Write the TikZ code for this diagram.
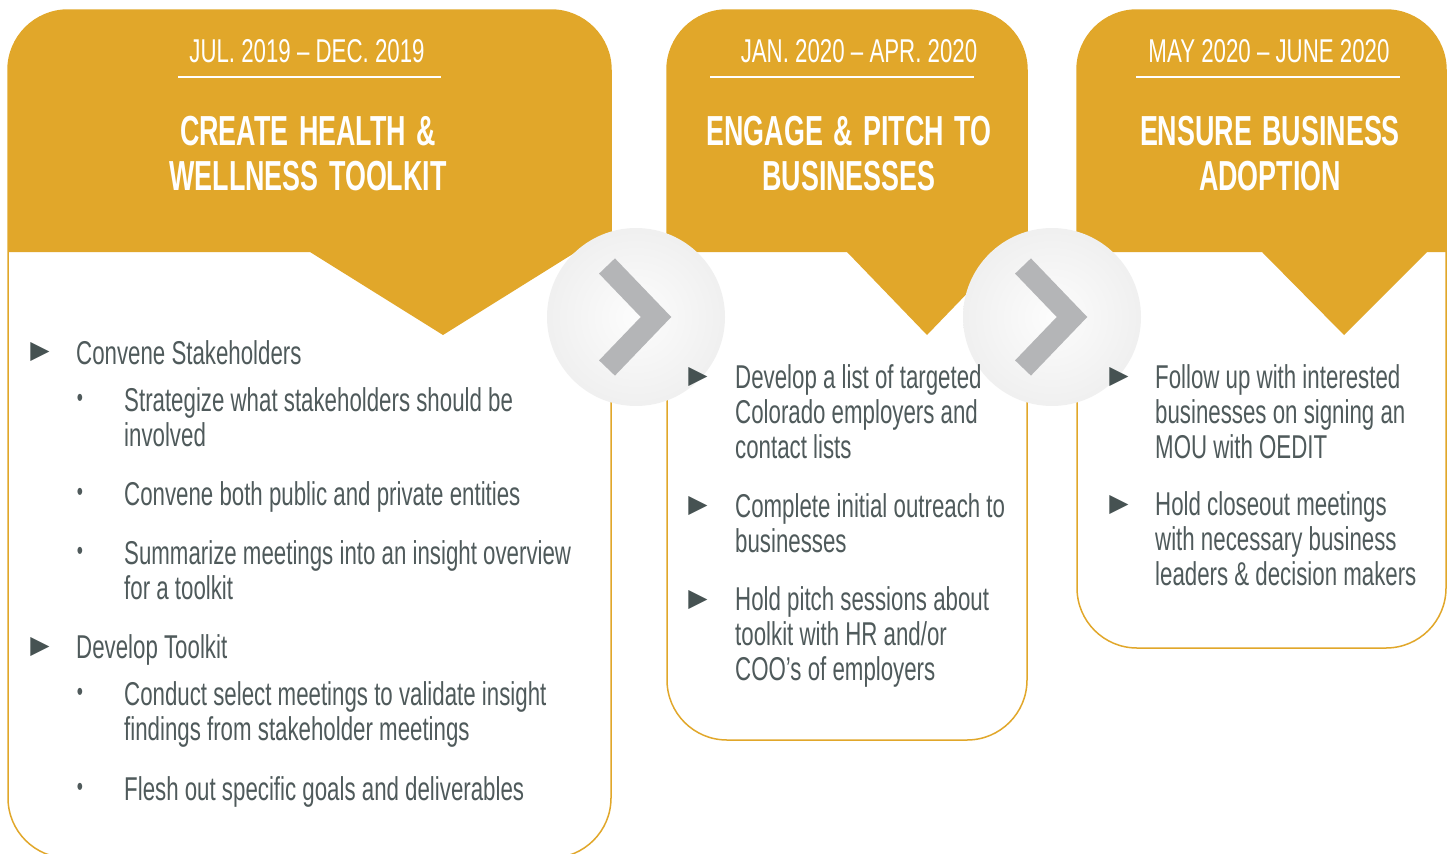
\documentclass[tikz,border=0pt]{standalone}
\usepackage{fontspec}
\setmainfont{Liberation Sans}
\newfontfamily\bodyfont[FakeStretch=0.675]{Liberation Sans}
\newfontfamily\headfont[FakeStretch=0.64,WordSpace=1.4]{Liberation Sans}
\newfontfamily\symfont{DejaVu Sans}
\usetikzlibrary{calc,positioning}
\definecolor{gold}{HTML}{E1A72A}
\definecolor{slate}{HTML}{4F5A5B}
\definecolor{slatedark}{HTML}{465252}
\definecolor{chevgray}{HTML}{B4B5B7}

\begin{document}
\begin{tikzpicture}[x=1pt,y=-1pt,
  card/.style={draw=gold,line width=1.5pt,fill=white,rounded corners=60pt},
  ball/.style={circle,minimum size=178pt,inner sep=0pt,inner color=black!1,outer color=black!6},
  chev/.style={draw=chevgray,line width=22pt},
  rule/.style={draw=white,line width=1.2pt},
  datetxt/.style={anchor=base,inner sep=0pt,text=white,font=\bodyfont\fontsize{33}{35}\selectfont},
  titletxt/.style={anchor=base,inner sep=0pt,text width=420pt,align=flush center,text=white,font=\headfont\bfseries\fontsize{42}{45}\selectfont},
  item/.style={anchor=base west,inner sep=0pt,text width=480pt,align=flush left,text=slate,font=\bodyfont\fontsize{33}{35}\selectfont},
  tri/.style={inner sep=0pt,text=slatedark,font=\symfont\fontsize{25}{25}\selectfont},
  dot/.style={inner sep=0pt,text=slate,font=\bodyfont\fontsize{26}{26}\selectfont}]
\useasboundingbox (0,0) rectangle (1452,854);
\clip (0,0) rectangle (1452,854);

% cards
\draw[card] (8,10) rectangle (611,858);
\begin{scope}
  \clip[rounded corners=60pt] (8,10) rectangle (611,858);
  \fill[gold] (0,0) -- (620,0) -- (620,252) -- (576,252) -- (443,335) -- (310,252) -- (0,252) -- cycle;
\end{scope}
\draw[card] (667,10) rectangle (1027,740);
\begin{scope}
  \clip[rounded corners=60pt] (667,10) rectangle (1027,740);
  \fill[gold] (660,0) -- (1035,0) -- (1035,252) -- (1007,252) -- (927,335) -- (847,252) -- (660,252) -- cycle;
\end{scope}
\draw[card] (1077,10) rectangle (1446,648);
\begin{scope}
  \clip[rounded corners=60pt] (1077,10) rectangle (1446,648);
  \fill[gold] (1070,0) -- (1452,0) -- (1452,252) -- (1427,252) -- (1344,335) -- (1262,252) -- (1070,252) -- cycle;
\end{scope}

% headers
\node[datetxt] (d1) at (307,62) {JUL. 2019 – DEC. 2019};
\draw[rule] (178,77) -- (441,77);
\node[titletxt] (t1) at (308,145) {CREATE HEALTH \&\\WELLNESS TOOLKIT};
\node[datetxt] (d2) at (859,62) {JAN. 2020 – APR. 2020};
\draw[rule] (710,77) -- (974,77);
\node[titletxt] (t2) at (849,145) {ENGAGE \& PITCH TO\\BUSINESSES};
\node[datetxt] (d3) at (1269,62) {MAY 2020 – JUNE 2020};
\draw[rule] (1136,77) -- (1400,77);
\node[titletxt] (t3) at (1270,145) {ENSURE BUSINESS\\ADOPTION};

% arrows between phases
\node[ball] (arr1) at (636,317) {};
\draw[chev] ($(arr1)+(-29,-51)$) -- ($(arr1)+(20,0)$) -- ($(arr1)+(-29,51)$);
\node[ball] (arr2) at (1052,317) {};
\draw[chev] ($(arr2)+(-29,-51)$) -- ($(arr2)+(20,0)$) -- ($(arr2)+(-29,51)$);

% phase 1
\node[tri] (m11) at (40,352) {▶};
\node[item] (i11) at (76,364) {Convene Stakeholders};
\node[dot] (b11) at (80,400) {•};
\node[item] (i12) at (124,411) {Strategize what stakeholders should be\\involved};
\node[dot] (b12) at (80,494) {•};
\node[item] (i13) at (124,505) {Convene both public and private entities};
\node[dot] (b13) at (80,553) {•};
\node[item] (i14) at (124,564) {Summarize meetings into an insight overview\\for a toolkit};
\node[tri] (m12) at (40,647) {▶};
\node[item] (i15) at (76,658) {Develop Toolkit};
\node[dot] (b14) at (80,694) {•};
\node[item] (i16) at (124,705) {Conduct select meetings to validate insight\\findings from stakeholder meetings};
\node[dot] (b15) at (80,789) {•};
\node[item] (i17) at (124,800) {Flesh out specific goals and deliverables};

% phase 2
\node[tri] (m21) at (698,377) {▶};
\node[item] (i21) at (735,388) {Develop a list of targeted\\Colorado employers and\\contact lists};
\node[tri] (m22) at (698,506) {▶};
\node[item] (i22) at (735,517) {Complete initial outreach to\\businesses};
\node[tri] (m23) at (698,600) {▶};
\node[item] (i23) at (735,610) {Hold pitch sessions about\\toolkit with HR and/or\\COO’s of employers};

% phase 3
\node[tri] (m31) at (1119,377) {▶};
\node[item] (i31) at (1155,388) {Follow up with interested\\businesses on signing an\\MOU with OEDIT};
\node[tri] (m32) at (1119,505) {▶};
\node[item] (i32) at (1155,515) {Hold closeout meetings\\with necessary business\\leaders \& decision makers};
\end{tikzpicture}
\end{document}
